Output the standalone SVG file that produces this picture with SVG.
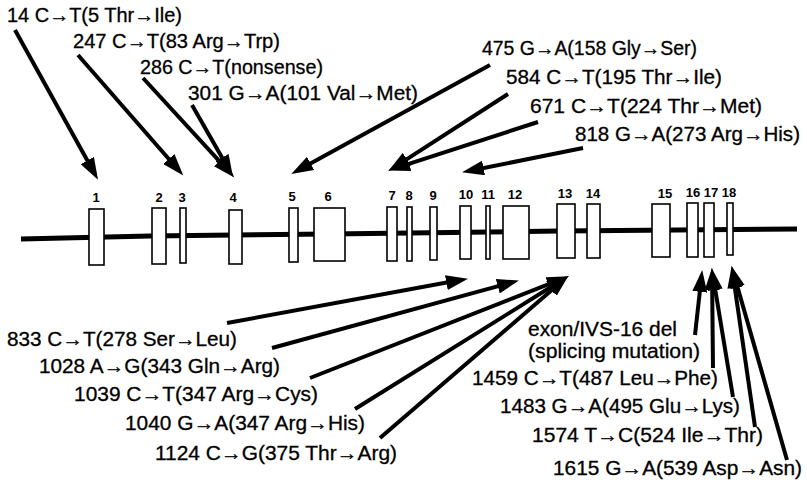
<svg xmlns="http://www.w3.org/2000/svg" width="807" height="489" viewBox="0 0 807 489">
<defs>
<marker id="ah" markerUnits="userSpaceOnUse" markerWidth="23" markerHeight="15" refX="10" refY="7.5" orient="auto">
<path d="M0,0 L22,7.5 L0,15 Z" fill="#000"/>
</marker>
</defs>
<style>
.lbl{font-family:"Liberation Sans",Arial,sans-serif;font-size:20px;fill:#000;stroke:#000;stroke-width:0.3}
.num{font-family:"Liberation Sans",Arial,sans-serif;font-size:13px;font-weight:bold;fill:#000;text-anchor:middle}
.ex{fill:#fff;stroke:#000;stroke-width:1.6}
.con line{stroke:#000;stroke-width:4;marker-end:url(#ah)}
</style>
<rect width="807" height="489" fill="#fff"/>
<g id="gene-line">
<polyline points="21,239 150,236 330,234 560,231 797,229" fill="none" stroke="#000" stroke-width="5"/>
</g>
<g id="exons">
<g id="exon1"><rect class="ex" x="89" y="209" width="15" height="56"/><text class="num" x="96" y="202">1</text></g>
<g id="exon2"><rect class="ex" x="152" y="208" width="14" height="56"/><text class="num" x="159" y="202">2</text></g>
<g id="exon3"><rect class="ex" x="180" y="208" width="6" height="55"/><text class="num" x="182" y="202">3</text></g>
<g id="exon4"><rect class="ex" x="229" y="210" width="13" height="54"/><text class="num" x="233" y="202">4</text></g>
<g id="exon5"><rect class="ex" x="289" y="208" width="9" height="54"/><text class="num" x="292" y="201">5</text></g>
<g id="exon6"><rect class="ex" x="314" y="208" width="31" height="53"/><text class="num" x="328" y="201">6</text></g>
<g id="exon7"><rect class="ex" x="387" y="207" width="10" height="54"/><text class="num" x="392" y="200">7</text></g>
<g id="exon8"><rect class="ex" x="407" y="207" width="5" height="54"/><text class="num" x="409" y="200">8</text></g>
<g id="exon9"><rect class="ex" x="430" y="207" width="7" height="53"/><text class="num" x="433" y="200">9</text></g>
<g id="exon10"><rect class="ex" x="460" y="206" width="11" height="53"/><text class="num" x="466" y="199">10</text></g>
<g id="exon11"><rect class="ex" x="486" y="206" width="4" height="53"/><text class="num" x="488" y="199">11</text></g>
<g id="exon12"><rect class="ex" x="503" y="206" width="26" height="53"/><text class="num" x="515" y="199">12</text></g>
<g id="exon13"><rect class="ex" x="557" y="204" width="18" height="54"/><text class="num" x="565" y="198">13</text></g>
<g id="exon14"><rect class="ex" x="587" y="204" width="13" height="54"/><text class="num" x="593" y="198">14</text></g>
<g id="exon15"><rect class="ex" x="652" y="204" width="18" height="53"/><text class="num" x="665" y="198">15</text></g>
<g id="exon16"><rect class="ex" x="687" y="203" width="11" height="54"/><text class="num" x="693" y="197">16</text></g>
<g id="exon17"><rect class="ex" x="704" y="203" width="10" height="54"/><text class="num" x="711" y="197">17</text></g>
<g id="exon18"><rect class="ex" x="727" y="203" width="6" height="52"/><text class="num" x="729" y="197">18</text></g>
</g>
<g id="labels">
<text class="lbl" x="7" y="22" textLength="175" lengthAdjust="spacingAndGlyphs">14 C→T(5 Thr→Ile)</text>
<text class="lbl" x="73" y="48" textLength="207" lengthAdjust="spacingAndGlyphs">247 C→T(83 Arg→Trp)</text>
<text class="lbl" x="140" y="74" textLength="183" lengthAdjust="spacingAndGlyphs">286 C→T(nonsense)</text>
<text class="lbl" x="188" y="100" textLength="230" lengthAdjust="spacingAndGlyphs">301 G→A(101 Val→Met)</text>
<text class="lbl" x="482" y="55" textLength="215" lengthAdjust="spacingAndGlyphs">475 G→A(158 Gly→Ser)</text>
<text class="lbl" x="506" y="84" textLength="216" lengthAdjust="spacingAndGlyphs">584 C→T(195 Thr→Ile)</text>
<text class="lbl" x="530" y="113" textLength="232" lengthAdjust="spacingAndGlyphs">671 C→T(224 Thr→Met)</text>
<text class="lbl" x="575" y="141" textLength="225" lengthAdjust="spacingAndGlyphs">818 G→A(273 Arg→His)</text>
<text class="lbl" x="7" y="346" textLength="230" lengthAdjust="spacingAndGlyphs">833 C→T(278 Ser→Leu)</text>
<text class="lbl" x="39" y="373" textLength="241" lengthAdjust="spacingAndGlyphs">1028 A→G(343 Gln→Arg)</text>
<text class="lbl" x="74" y="401" textLength="244" lengthAdjust="spacingAndGlyphs">1039 C→T(347 Arg→Cys)</text>
<text class="lbl" x="125" y="430" textLength="240" lengthAdjust="spacingAndGlyphs">1040 G→A(347 Arg→His)</text>
<text class="lbl" x="155" y="460" textLength="242" lengthAdjust="spacingAndGlyphs">1124 C→G(375 Thr→Arg)</text>
<text class="lbl" x="528" y="336" textLength="149" lengthAdjust="spacingAndGlyphs">exon/IVS-16 del</text>
<text class="lbl" x="528" y="358" textLength="172" lengthAdjust="spacingAndGlyphs">(splicing mutation)</text>
<text class="lbl" x="472" y="385" textLength="246" lengthAdjust="spacingAndGlyphs">1459 C→T(487 Leu→Phe)</text>
<text class="lbl" x="500" y="413" textLength="240" lengthAdjust="spacingAndGlyphs">1483 G→A(495 Glu→Lys)</text>
<text class="lbl" x="532" y="442" textLength="231" lengthAdjust="spacingAndGlyphs">1574 T→C(524 Ile→Thr)</text>
<text class="lbl" x="553" y="475" textLength="249" lengthAdjust="spacingAndGlyphs">1615 G→A(539 Asp→Asn)</text>
</g>
<g id="connectors" class="con">
<line x1="15" y1="30" x2="92.2" y2="169.3"/>
<line x1="78" y1="55" x2="175.4" y2="166.5"/>
<line x1="143" y1="78" x2="226.2" y2="168.6"/>
<line x1="192" y1="105" x2="227" y2="166.3"/>
<line x1="490" y1="65" x2="301.8" y2="168.2"/>
<line x1="508" y1="94" x2="398.4" y2="164.6"/>
<line x1="538" y1="122" x2="399.5" y2="166.9"/>
<line x1="583" y1="148" x2="473.8" y2="170"/>
<line x1="227" y1="323" x2="456.2" y2="280.8"/>
<line x1="272" y1="348" x2="507.4" y2="283.6"/>
<line x1="310" y1="378" x2="557.7" y2="280.7"/>
<line x1="355" y1="409" x2="558.5" y2="282.3"/>
<line x1="380" y1="438" x2="559.4" y2="283.5"/>
<line x1="695" y1="335" x2="700.9" y2="281.9"/>
<line x1="713" y1="368" x2="712.1" y2="280"/>
<line x1="733" y1="397" x2="713.6" y2="279.9"/>
<line x1="755" y1="427" x2="733.4" y2="277.9"/>
<line x1="787" y1="460" x2="734.8" y2="277.6"/>
</g>
</svg>
